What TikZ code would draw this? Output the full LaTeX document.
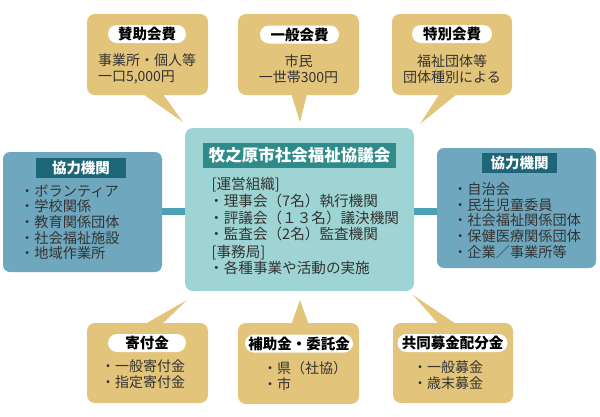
\documentclass[tikz,border=0pt]{standalone}
\usepackage{fontspec}
\setmainfont{Noto Sans CJK JP}
\definecolor{gold}{HTML}{E2C47A}
\definecolor{centerteal}{HTML}{9ED5D4}
\definecolor{sidebox}{HTML}{6FA8BE}
\definecolor{hdrdark}{HTML}{1D6677}
\definecolor{titlebar}{HTML}{2F8B8A}
\definecolor{linkc}{HTML}{4CA2B4}
\definecolor{txt}{HTML}{333333}
\tikzset{
  callout/.style={fill=gold, rounded corners=8pt, inner sep=0pt},
  pill/.style={fill=white, rounded corners=9pt, inner sep=0pt, minimum height=18pt, font=\fontsize{14.5}{15}\selectfont\bfseries, text=black},
  bodytxt/.style={inner sep=0pt, text=txt, font=\fontsize{14}{16}\selectfont},
  sidetxt/.style={inner sep=0pt, text=txt, font=\fontsize{14.2}{15.6}\selectfont, anchor=north west, align=left},
  sidebx/.style={fill=sidebox, rounded corners=7pt, inner sep=0pt, minimum width=159pt, minimum height=120pt},
  sidehdr/.style={fill=hdrdark, inner sep=0pt, minimum height=20pt, text=white, font=\fontsize{14.5}{16}\selectfont\bfseries},
  linkbar/.style={draw=linkc, line width=7pt},
}
\begin{document}
\begin{tikzpicture}[x=1pt,y=-1pt]
\useasboundingbox (0,0) rectangle (600,416);
% connectors (behind)
\node[sidebx] (left) at (82.5,212) {};
\node[sidebx] (right) at (516.5,208) {};
\node[fill=centerteal, rounded corners=8pt, inner sep=0pt, minimum width=229pt, minimum height=163pt] (center) at (299.5,209.5) {};
\draw[linkbar] (left.east |- 0,211.5) -- (center.west |- 0,211.5);
\draw[linkbar] (center.east |- 0,211.5) -- (right.west |- 0,211.5);

% top callouts
\fill[gold] (137,90) -- (183,122) -- (160,90) -- cycle;
\fill[gold] (290,90) -- (300,122) -- (308,90) -- cycle;
\fill[gold] (442,90) -- (420,124) -- (462,90) -- cycle;
\node[callout, minimum width=121pt, minimum height=81pt] (sanjo) at (147.5,54.5) {};
\node[callout, minimum width=121pt, minimum height=81pt] (ippan) at (298.5,54.5) {};
\node[callout, minimum width=120pt, minimum height=81pt] (tokubetsu) at (452,54.5) {};
\node[pill, minimum width=78pt] (sanjoh) at (147,34) {賛助会費};
\node[pill, minimum width=79pt] (ippanh) at (299.5,34.5) {一般会費};
\node[pill, minimum width=80pt] (tokubetsuh) at (452,34) {特別会費};
\node[bodytxt, align=left] (sanjot) at (147,69) {事業所・個人等\\一口5,000円};
\node[bodytxt, align=center] (ippant) at (298.5,69) {市民\\一世帯300円};
\node[bodytxt, align=center] (tokubetsut) at (452,69) {福祉団体等\\団体種別による};

% bottom callouts
\fill[gold] (138,328) -- (187,300) -- (158,328) -- cycle;
\fill[gold] (290,328) -- (300,300) -- (310,328) -- cycle;
\fill[gold] (442,328) -- (413,295) -- (462,328) -- cycle;
\node[callout, minimum width=121pt, minimum height=80pt] (kifu) at (147.5,363) {};
\node[callout, minimum width=121pt, minimum height=81pt] (hojo) at (298.5,363.5) {};
\node[callout, minimum width=120pt, minimum height=80pt] (kyodo) at (453,363) {};
\node[pill, minimum width=78pt] (kifuh) at (147,343) {寄付金};
\node[pill, minimum width=108pt] (hojoh) at (299,343.5) {補助金・委託金};
\node[pill, minimum width=110pt] (kyodoh) at (452.5,343) {共同募金配分金};
\node[bodytxt, align=left, anchor=north west] (kifut) at (101,360) {・一般寄付金\\・指定寄付金};
\node[bodytxt, align=left, anchor=north west] (hojot) at (263,361) {・県（社協）\\・市};
\node[bodytxt, align=left, anchor=north west] (kyodot) at (413,361) {・一般募金\\・歳末募金};

% center
\node[fill=titlebar, inner sep=0pt, minimum width=193pt, minimum height=25pt, text=white, font=\fontsize{16.5}{18}\selectfont\bfseries] (title) at (299.5,155.5) {牧之原市社会福祉協議会};
\node[inner sep=0pt, text=txt, font=\fontsize{14.6}{17}\selectfont, anchor=north west, align=left] (centert) at (209,176.5) {\,[運営組織]\\・理事会（7名）執行機関\\・評議会（１３名）議決機関\\・監査会（2名）監査機関\\\,[事務局]\\・各種事業や活動の実施};

% side boxes
\node[sidehdr, minimum width=90pt] (lefth) at (81,168) {協力機関};
\node[sidehdr, minimum width=75pt] (righth) at (519.5,163) {協力機関};
\node[sidetxt] (leftt) at (20,184.5) {・ボランティア\\・学校関係\\・教育関係団体\\・社会福祉施設\\・地域作業所};
\node[sidetxt] (rightt) at (453,182.5) {・自治会\\・民生児童委員\\・社会福祉関係団体\\・保健医療関係団体\\・企業／事業所等};
\end{tikzpicture}
\end{document}
